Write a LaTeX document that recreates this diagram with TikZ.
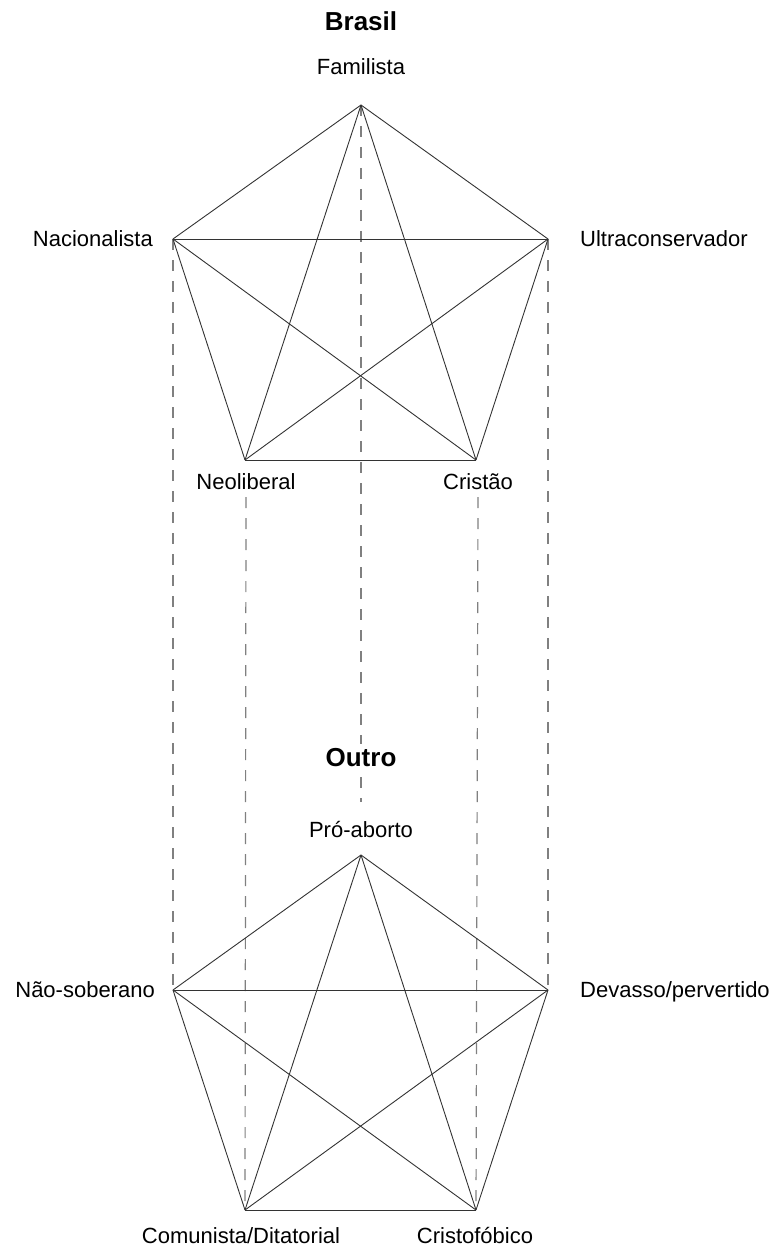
\documentclass[tikz,border=0pt]{standalone}
\usepackage{fontspec}
\setmainfont{Liberation Sans}
\begin{document}
\begin{tikzpicture}[x=1pt,y=-1pt,
  edge/.style={draw=black!80, line width=0.9pt},
  guide/.style={draw=black!50, line width=1.2pt, dash pattern=on 11pt off 10pt},
  lbl/.style={inner sep=0pt, font=\fontsize{22}{26}\selectfont, text height=15.8pt, text depth=0pt},
  ttl/.style={inner sep=0pt, font=\bfseries\fontsize{26}{31}\selectfont, text height=18.7pt, text depth=0pt}]
\useasboundingbox (0,0) rectangle (774,1249);
% top pentagon
\coordinate (F) at (361,105);
\coordinate (N) at (173,239);
\coordinate (U) at (548,239);
\coordinate (NL) at (245,460);
\coordinate (C) at (476,460);
% bottom pentagon
\coordinate (P) at (361,855);
\coordinate (NS) at (173,990);
\coordinate (D) at (548,990);
\coordinate (CD) at (245,1210);
\coordinate (CF) at (476,1210);
\coordinate (Pend) at (361,802);
% labels
\node[ttl] (brasil) at (361,21) {Brasil};
\node[lbl] (lF) at (361,67) {Familista};
\node[lbl, anchor=east] (lN) at (153,239) {Nacionalista};
\node[lbl, anchor=west] (lU) at (580,239) {Ultraconservador};
\node[lbl] (lNL) at (246,482) {Neoliberal};
\node[lbl] (lC) at (478,482) {Cristão};
\node[lbl] (lP) at (361,830) {Pró-aborto};
\node[lbl, anchor=east] (lNS) at (155,990) {Não-soberano};
\node[lbl, anchor=west] (lD) at (580,990) {Devasso/pervertido};
\node[lbl] (lCD) at (241,1236) {Comunista/Ditatorial};
\node[lbl] (lCF) at (475,1236) {Cristofóbico};
% dashed guides
\draw[guide] (N) -- (NS);
\draw[guide] (U) -- (D);
\draw[guide] ([yshift=-7pt]lNL.south) -- (CD);
\draw[guide] ([yshift=-7pt]lC.south) -- (CF);
\draw[guide] (F) -- (Pend);
% complete graphs
\foreach \a/\b in {F/N,F/U,F/NL,F/C,N/U,N/NL,N/C,U/NL,U/C,NL/C}
  \draw[edge] (\a) -- (\b);
\foreach \a/\b in {P/NS,P/D,P/CD,P/CF,NS/D,NS/CD,NS/CF,D/CD,D/CF,CD/CF}
  \draw[edge] (\a) -- (\b);
\node[ttl, fill=white, inner sep=4pt] (outro) at (361,757) {Outro};
\end{tikzpicture}
\end{document}
